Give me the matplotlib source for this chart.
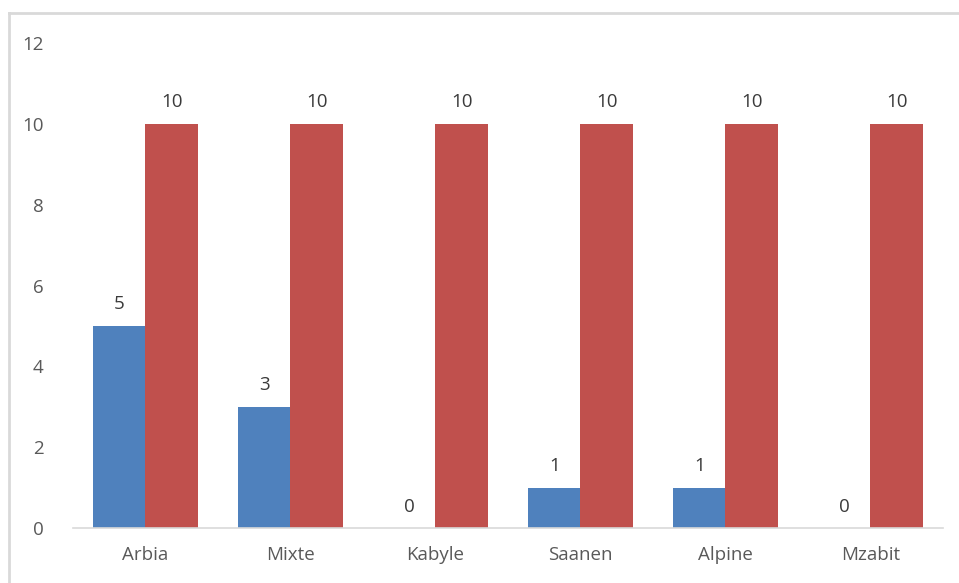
import numpy as np
import matplotlib
matplotlib.use('Agg')
import matplotlib.pyplot as plt
from matplotlib.lines import Line2D

plt.rcParams['font.family'] = ['Open Sans', 'DejaVu Sans']

# données
races = ['Arbia', 'Mixte', 'Kabyle', 'Saanen', 'Alpine', 'Mzabit']
positifs = [5, 3, 0, 1, 1, 0]
effectif = [10, 10, 10, 10, 10, 10]

bleu = '#4f81bd'
rouge = '#c0504d'
gris = '#595959'

fig = plt.figure(figsize=(9.59, 5.83), dpi=100)
ax = fig.add_axes([0.0761, 0.0943, 0.9072, 0.8319])

x = np.arange(len(races))
w = 0.36
b1 = ax.bar(x - w / 2, positifs, w, color=bleu)
b2 = ax.bar(x + w / 2, effectif, w, color=rouge)

# étiquettes de valeurs au-dessus des barres
for bars, vals in ((b1, positifs), (b2, effectif)):
    for r, v in zip(bars, vals):
        ax.annotate(str(v), (r.get_x() + r.get_width() / 2, v),
                    xytext=(0, 9), textcoords='offset points',
                    ha='center', va='bottom', fontsize=13.5, color='#3a3a3a')

ax.set_xlim(-0.5, len(races) - 0.5)
ax.set_ylim(0, 12)
ax.set_yticks(range(0, 13, 2))
ax.set_xticks(x)
ax.set_xticklabels(races)
ax.tick_params(axis='both', length=0, labelsize=13.5, colors=gris)
ax.tick_params(axis='y', pad=21)
ax.tick_params(axis='x', pad=13)

for s in ('left', 'right', 'top'):
    ax.spines[s].set_visible(False)
ax.spines['bottom'].set_color('#d9d9d9')
ax.spines['bottom'].set_linewidth(1.2)

# cadre du graphique
fig.add_artist(Line2D([9 / 959, 9 / 959], [0, 1 - 13 / 583], color='#d9d9d9', lw=2))
fig.add_artist(Line2D([9 / 959, 1], [1 - 13 / 583, 1 - 13 / 583], color='#d9d9d9', lw=2))

fig.savefig('out.png', dpi=100)
